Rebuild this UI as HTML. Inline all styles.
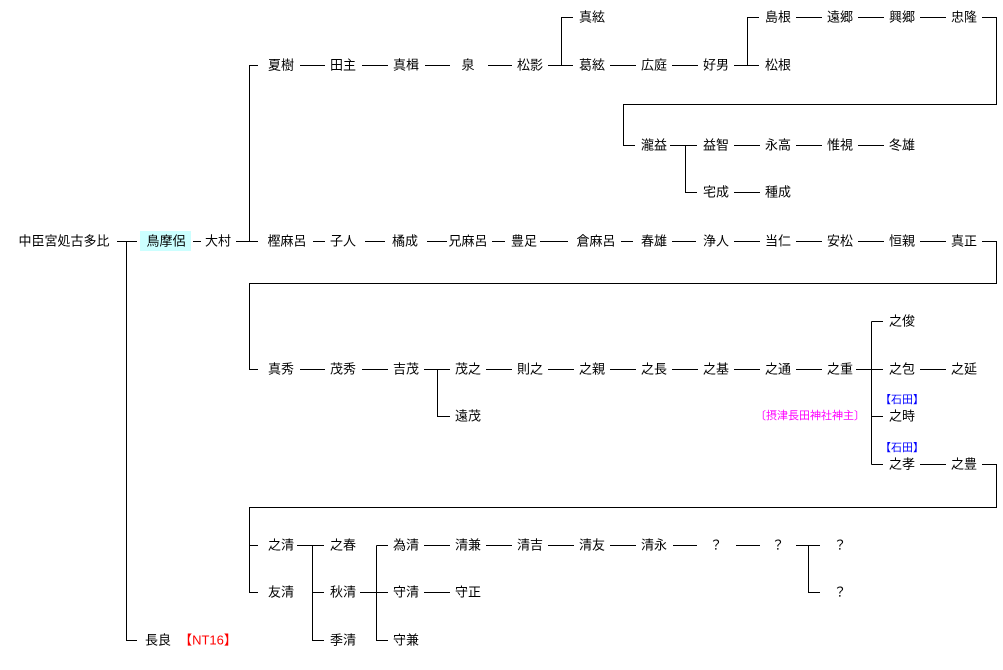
<!DOCTYPE html>
<html><head><meta charset="utf-8"><style>
html,body{margin:0;padding:0;background:#fff;width:1003px;height:670px;overflow:hidden}
svg{display:block}
text{font-family:"Liberation Sans","Noto Sans CJK JP",sans-serif;font-size:13px;fill:#000;text-anchor:middle;dominant-baseline:central}
.b{fill:#0000ff;font-size:11px}
.m{fill:#ff00ff;font-size:11px}
.r{fill:#ff0000}
</style></head><body>
<svg width="1003" height="670" viewBox="0 0 1003 670" xmlns="http://www.w3.org/2000/svg">
<rect x="140" y="231" width="51" height="20" fill="#ccffff"/>
<g stroke="#000" stroke-width="1" fill="none" shape-rendering="crispEdges">
<path d="M117 241.5H137M126.5 241.5V640.5H137"/>
<path d="M193 241.5H201"/>
<path d="M236 241.5H258M249.5 241.5V65.5H258"/>
<path d="M313 241.5H325M365 241.5H385M427 241.5H447M492 241.5H505M540 241.5H568M621 241.5H633M672 241.5H696M734 241.5H760M796 241.5H822M858 241.5H884M920 241.5H946"/>
<path d="M982 241.5H996.5V283.5H249.5V369.5H258"/>
<path d="M300 65.5H325M362 65.5H388M425 65.5H450M488 65.5H512M548 65.5H573M561.5 65.5V17.5H573M610 65.5H636M672 65.5H698M734 65.5H759M747.5 65.5V17.5H759"/>
<path d="M796 17.5H822M858 17.5H884M920 17.5H946M982 17.5H996.5V104.5H623.5V145.5H635"/>
<path d="M670 145.5H697M685.5 145.5V192.5H697M734 145.5H760M796 145.5H822M858 145.5H884M734 192.5H760"/>
<path d="M300 369.5H325M362 369.5H388M424 369.5H450M437.5 369.5V416.5H450M486 369.5H512M548 369.5H574M610 369.5H636M672 369.5H698M734 369.5H760M796 369.5H822M856 369.5H883M871.5 321.5V464.5M871.5 321.5H883M871.5 416.5H883M871.5 464.5H883M920 369.5H946M920 464.5H946"/>
<path d="M982 464.5H996.5V507.5H249.5V592.5H258M249.5 545.5H258"/>
<path d="M297 545.5H324M312.5 545.5V640.5H324M312.5 592.5H324M360 592.5H388M376.5 545.5V640.5H388M376.5 545.5H388M424 545.5H450M486 545.5H512M548 545.5H574M610 545.5H636M673 545.5H697M736 545.5H760M796 545.5H820M808.5 545.5V592.5H820M424 592.5H450"/>
</g>
<text x="64" y="241">中臣宮処古多比</text>
<text x="166" y="241">鳥摩侶</text>
<text x="218" y="241">大村</text>
<text x="287" y="241">樫麻呂</text>
<text x="343" y="241">子人</text>
<text x="405" y="241">橘成</text>
<text x="468" y="241">兄麻呂</text>
<text x="524" y="241">豊足</text>
<text x="596" y="241">倉麻呂</text>
<text x="654" y="241">春雄</text>
<text x="716" y="241">浄人</text>
<text x="778" y="241">当仁</text>
<text x="840" y="241">安松</text>
<text x="902" y="241">恒親</text>
<text x="964" y="241">真正</text>

<text x="281" y="65">夏樹</text>
<text x="343" y="65">田主</text>
<text x="406" y="65">真楫</text>
<text x="468" y="65">泉</text>
<text x="530" y="65">松影</text>
<text x="592" y="65">葛絃</text>
<text x="654" y="65">広庭</text>
<text x="716" y="65">好男</text>
<text x="778" y="65">松根</text>

<text x="592" y="17">真絃</text>
<text x="778" y="17">島根</text>
<text x="840" y="17">遠郷</text>
<text x="902" y="17">興郷</text>
<text x="964" y="17">忠隆</text>

<text x="654" y="145">瀧益</text>
<text x="716" y="145">益智</text>
<text x="778" y="145">永高</text>
<text x="840" y="145">惟視</text>
<text x="902" y="145">冬雄</text>
<text x="716" y="192">宅成</text>
<text x="778" y="192">種成</text>

<text x="281" y="369">真秀</text>
<text x="343" y="369">茂秀</text>
<text x="406" y="369">吉茂</text>
<text x="468" y="369">茂之</text>
<text x="530" y="369">則之</text>
<text x="592" y="369">之親</text>
<text x="654" y="369">之長</text>
<text x="716" y="369">之基</text>
<text x="778" y="369">之通</text>
<text x="840" y="369">之重</text>
<text x="902" y="369">之包</text>
<text x="964" y="369">之延</text>
<text x="902" y="321">之俊</text>
<text x="468" y="416">遠茂</text>
<text class="b" x="902" y="400">【石田】</text>
<text x="902" y="416">之時</text>
<text class="m" x="810" y="416">〔摂津長田神社神主〕</text>
<text class="b" x="902" y="448">【石田】</text>
<text x="902" y="464">之孝</text>
<text x="964" y="464">之豊</text>

<text x="281" y="545">之清</text>
<text x="343" y="545">之春</text>
<text x="406" y="545">為清</text>
<text x="468" y="545">清兼</text>
<text x="530" y="545">清吉</text>
<text x="592" y="545">清友</text>
<text x="654" y="545">清永</text>
<text x="716" y="545">？</text>
<text x="778" y="545">？</text>
<text x="840" y="545">？</text>
<text x="281" y="592">友清</text>
<text x="343" y="592">秋清</text>
<text x="406" y="592">守清</text>
<text x="468" y="592">守正</text>
<text x="840" y="592">？</text>
<text x="343" y="640">季清</text>
<text x="406" y="640">守兼</text>
<text x="158" y="640">長良</text>
<text class="r" x="208" y="640">【NT16】</text>
</svg>
</body></html>
